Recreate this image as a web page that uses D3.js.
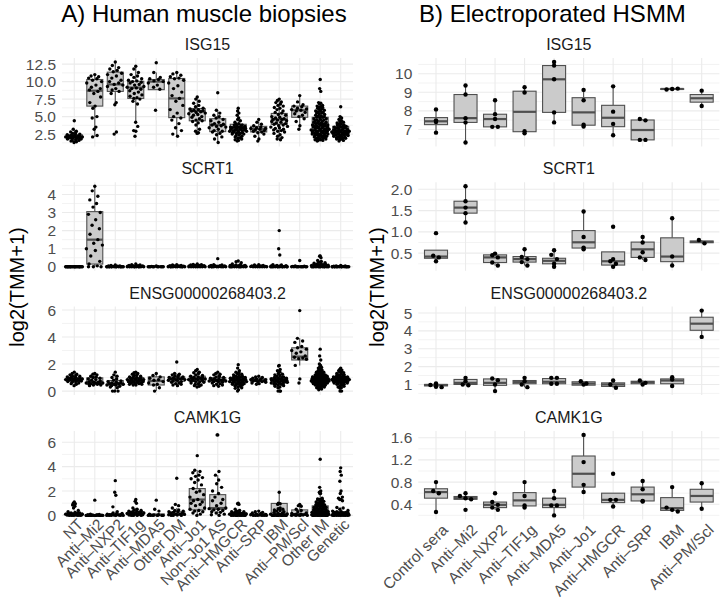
<!DOCTYPE html>
<html><head><meta charset="utf-8">
<script src="https://cdn.jsdelivr.net/npm/d3@7"></script>
<style>body{margin:0;background:#fff}svg{display:block}text{font-family:"Liberation Sans",Arial,Helvetica,sans-serif}</style>
</head><body><svg id="c" width="720" height="604"></svg>
<script>
const catsA = ["NT","Anti–Mi2","Anti–NXP2","Anti–TIF1g","Anti–MDA5","Other DM","Anti–Jo1","Non–Jo1 AS","Anti–HMGCR","Anti–SRP","IBM","Anti–PM/Scl","Other IM","Genetic"];
const catsB = ["Control sera","Anti–Mi2","Anti–NXP2","Anti–TIF1g","Anti–MDA5","Anti–Jo1","Anti–HMGCR","Anti–SRP","IBM","Anti–PM/Scl"];
const genes = ["ISG15","SCRT1","ENSG00000268403.2","CAMK1G"];

// ---------- Panel A: Human muscle biopsies ----------
const ISG15_A = [
 [1.3,1.4,1.5,1.6,1.6,1.7,1.8,1.8,1.9,1.9,2.0,2.0,2.0,2.1,2.1,2.1,2.2,2.2,2.2,2.3,2.3,2.4,2.4,2.5,2.6,2.7,2.8,2.9,3.2,4.4],
 [11.0,10.8,10.7,10.5,10.4,10.2,10.0,9.8,9.5,9.2,9.0,8.8,8.6,8.3,7.8,7.0,6.5,6.2,5.0,4.8,3.5,3.2,2.3,2.1],
 [12.8,12.3,12.0,11.8,11.6,11.4,11.2,11.0,10.8,10.5,10.2,10.0,9.8,9.6,9.5,9.3,9.0,8.8,8.6,8.3,7.0,6.7,2.8,2.5],
 [12.2,11.8,11.3,11.0,10.8,10.6,10.4,10.2,10.1,10.0,9.9,9.8,9.6,9.5,9.3,9.2,9.1,9.0,8.9,8.7,8.5,8.3,8.1,7.9,7.7,7.6,7.5,7.2,6.8,4.2,3.6,3.0,2.9,2.2],
 [12.7,11.3,10.6,10.4,10.3,10.1,10.0,9.8,9.5,9.2,8.9,5.9],
 [11.3,11.1,10.9,10.7,10.5,10.4,10.2,9.8,9.4,9.0,8.5,8.0,7.6,7.2,6.6,6.0,5.5,5.0,4.8,4.5,4.0,3.4,3.0,2.5,2.2],
 [7.8,7.5,7.2,6.9,6.6,6.4,6.2,6.1,6.0,5.9,5.8,5.8,5.7,5.6,5.5,5.4,5.3,5.2,5.0,4.9,4.7,4.5,4.4,4.3,4.1,3.8,3.2,2.9,2.7,2.6],
 [8.4,5.9,5.5,5.2,5.0,4.8,4.6,4.4,4.2,4.0,3.9,3.8,3.7,3.6,3.5,3.4,3.2,3.0,2.9,2.8,2.6,2.4,2.1,1.8,1.3],
 [6.2,5.8,5.5,5.2,4.8,4.6,4.4,4.2,4.0,3.9,3.8,3.8,3.7,3.6,3.6,3.5,3.5,3.4,3.4,3.3,3.3,3.2,3.2,3.1,3.1,3.0,3.0,3.0,2.9,2.9,2.8,2.8,2.7,2.7,2.6,2.6,2.5,2.5,2.4,2.3,2.2,2.1,2.0,1.9,1.8,1.7,1.6,1.5,3.3,3.5],
 [4.6,4.2,3.9,3.7,3.5,3.4,3.3,3.3,3.2,3.1,3.0,2.9,2.8,2.7,2.5,2.2,1.8,1.5],
 [7.5,7.3,7.1,7.0,6.8,6.6,6.5,6.3,6.2,6.0,5.8,5.6,5.5,5.3,5.2,5.0,4.9,4.8,4.7,4.6,4.5,4.4,4.3,4.2,4.1,4.0,3.9,3.8,3.7,3.6,3.5,3.4,3.3,3.2,3.1,3.0,2.9,2.8,2.6,2.4,2.2,2.0,1.8,1.7,4.6],
 [8.0,7.1,6.7,6.5,6.4,6.2,6.1,6.0,5.9,5.8,5.6,5.4,5.2,5.0,4.7,4.3,3.7,3.2],
 [10.3,9.0,8.6,7.0,6.9,6.8,6.6,6.5,6.4,6.3,6.2,6.1,6.0,5.9,5.8,5.7,5.6,5.5,5.4,5.3,5.2,5.1,5.0,4.9,4.9,4.8,4.7,4.6,4.5,4.5,4.4,4.3,4.2,4.2,4.1,4.0,4.0,3.9,3.8,3.8,3.7,3.7,3.6,3.6,3.5,3.5,3.4,3.4,3.3,3.3,3.2,3.2,3.1,3.1,3.0,3.0,2.9,2.9,2.8,2.8,2.7,2.7,2.6,2.6,2.5,2.5,2.4,2.4,2.3,2.3,2.2,2.2,2.1,2.1,2.0,2.0,1.9,1.9,1.8,1.8,1.7,1.7,1.6,1.6,1.5,3.9,4.3,4.7,5.1,5.5,3.5,2.9,3.0,3.2,3.8,4.1,2.5,2.2,6.3,5.8],
 [6.4,5.0,4.8,4.6,4.4,4.3,4.2,4.1,4.0,3.9,3.8,3.7,3.6,3.6,3.5,3.5,3.4,3.4,3.3,3.3,3.2,3.2,3.1,3.1,3.0,3.0,3.0,2.9,2.9,2.9,2.8,2.8,2.8,2.7,2.7,2.7,2.6,2.6,2.6,2.5,2.5,2.5,2.4,2.4,2.3,2.3,2.2,2.2,2.1,2.1,2.0,2.0,1.9,1.9,1.8,1.8,1.7,1.6,1.5,3.8]
];
const ISG15_A_box = [[1.8,2.1,2.4],[6.5,8.7,10.3],[8.6,9.6,11.35],[7.6,9.15,10.05],[8.85,10.0,10.3],[4.85,7.6,10.45],[4.4,5.8,6.15],[2.85,3.8,4.7],[2.95,3.4,3.9],[2.8,3.25,3.6],[3.9,4.6,5.45],[4.9,5.9,6.5],[2.6,3.6,4.9],[2.3,2.9,3.6]];

const SCRT1_A = [
 [0,0,0,0,0,0,0,0,0,0,0,0,0,0,0,0,0,0,0,0],
 [4.45,4.2,3.9,3.7,3.5,3.3,3.0,2.9,2.6,2.3,2.1,1.8,1.5,1.3,1.2,1.0,0.9,0.6,0.3,0.15,0.05,0,0,0],
 [0.1,0.08,0.05,0.05,0.03,0.02,0,0,0,0,0,0,0,0,0,0,0,0,0,0],
 [0.15,0.12,0.1,0.08,0.06,0.05,0.04,0.03,0.03,0.02,0.02,0.01,0,0,0,0,0,0,0,0,0,0],
 [0.05,0.02,0,0,0,0,0,0,0,0,0,0],
 [0.12,0.1,0.08,0.06,0.05,0.04,0.03,0.02,0.02,0.01,0,0,0,0,0,0,0,0,0,0],
 [0.15,0.13,0.12,0.1,0.08,0.07,0.06,0.05,0.04,0.03,0.03,0.02,0.02,0.01,0,0,0,0,0,0,0,0],
 [0.45,0.12,0.1,0.08,0.06,0.05,0.04,0.03,0.02,0.02,0.01,0,0,0,0,0,0,0,0,0],
 [0.32,0.28,0.22,0.15,0.12,0.1,0.08,0.07,0.06,0.05,0.04,0.03,0.03,0.02,0.01,0,0,0,0,0,0,0,0,0,0],
 [0.12,0.1,0.07,0.05,0.04,0.03,0.02,0.01,0,0,0,0,0,0,0],
 [2.0,1.0,0.65,0.12,0.1,0.08,0.06,0.05,0.04,0.03,0.02,0.01,0,0,0,0,0,0,0,0,0,0,0,0],
 [0.35,0.05,0.03,0.02,0,0,0,0,0,0,0,0,0,0],
 [0.6,0.58,0.5,0.35,0.3,0.25,0.22,0.2,0.18,0.15,0.14,0.12,0.11,0.1,0.09,0.08,0.07,0.06,0.05,0.05,0.04,0.04,0.03,0.03,0.02,0.02,0.01,0.01,0,0,0,0,0,0,0,0,0,0,0,0],
 [0.08,0.05,0.04,0.03,0.02,0.01,0,0,0,0,0,0,0,0,0,0,0,0,0,0]
];
const SCRT1_A_box = [[0,0,0],[0.15,1.5,3.05],[0,0,0.03],[0,0.03,0.06],[0,0,0.02],[0,0.02,0.05],[0,0.03,0.06],[0,0.02,0.06],[0,0.03,0.08],[0,0.02,0.05],[0,0,0.05],[0,0,0.03],[0,0.02,0.08],[0,0,0.02]];

const ENSG_A = [
 [0.4,0.5,0.55,0.6,0.65,0.7,0.7,0.75,0.75,0.8,0.8,0.8,0.85,0.85,0.85,0.9,0.9,0.9,0.95,0.95,1.0,1.0,1.05,1.1,1.1,1.15,1.2,1.25,1.3,1.4],
 [1.3,1.25,1.2,1.1,1.05,1.0,0.95,0.9,0.85,0.8,0.75,0.7,0.65,0.65,0.6,0.6,0.6,0.55,0.55,0.5,0.5,0.45,0.45,0.4],
 [1.4,1.2,1.1,1.0,0.9,0.8,0.75,0.7,0.65,0.6,0.6,0.55,0.55,0.5,0.5,0.45,0.45,0.4,0.35,0.3,0.25,0.0,0.0,0.0],
 [1.4,1.35,1.3,1.25,1.2,1.15,1.1,1.05,1.0,1.0,0.95,0.95,0.9,0.9,0.85,0.85,0.8,0.8,0.8,0.75,0.75,0.7,0.7,0.7,0.65,0.65,0.6,0.6,0.55,0.55,0.5,0.5,0.45,0.45],
 [1.3,1.15,1.05,0.95,0.85,0.8,0.7,0.6,0.5,0.45,0.25,0.0],
 [2.15,1.3,1.25,1.2,1.15,1.1,1.05,1.0,1.0,0.95,0.95,0.9,0.9,0.85,0.85,0.8,0.8,0.75,0.7,0.65,0.6,0.55,0.5,0.45,0.4],
 [1.6,1.5,1.4,1.35,1.3,1.2,1.15,1.1,1.05,1.0,1.0,0.95,0.95,0.9,0.9,0.85,0.85,0.8,0.8,0.75,0.7,0.7,0.65,0.6,0.55,0.5,0.45,0.4,0.35,0.3],
 [1.4,1.3,1.25,1.2,1.1,1.05,1.0,0.95,0.9,0.9,0.85,0.85,0.8,0.8,0.75,0.75,0.7,0.7,0.65,0.6,0.55,0.5,0.45,0.4,0.35],
 [1.95,1.7,1.5,1.4,1.35,1.3,1.25,1.2,1.15,1.1,1.1,1.05,1.05,1.0,1.0,0.95,0.95,0.9,0.9,0.9,0.85,0.85,0.85,0.8,0.8,0.8,0.75,0.75,0.75,0.7,0.7,0.7,0.65,0.65,0.6,0.6,0.55,0.55,0.5,0.5,0.45,0.45,0.4,0.35,0.3,0.25,0.2,0.1,0.0,0.85],
 [1.1,1.05,1.0,0.95,0.9,0.9,0.85,0.85,0.8,0.8,0.75,0.75,0.7,0.7,0.65,0.6,0.55,0.5],
 [1.9,1.85,1.6,1.5,1.4,1.3,1.25,1.2,1.15,1.1,1.05,1.0,1.0,0.95,0.95,0.9,0.9,0.85,0.85,0.8,0.8,0.8,0.75,0.75,0.7,0.7,0.7,0.65,0.65,0.6,0.6,0.55,0.55,0.5,0.5,0.45,0.4,0.35,0.3,0.25,0.0,0.0,0.0,0.85,0.9],
 [5.95,3.9,3.7,3.6,3.3,3.2,3.1,3.0,2.9,2.8,2.6,2.5,2.45,2.4,2.35,1.9,0.9,0.6],
 [3.1,2.6,2.3,2.0,1.9,1.8,1.75,1.7,1.65,1.6,1.55,1.5,1.5,1.45,1.4,1.4,1.35,1.35,1.3,1.3,1.25,1.25,1.2,1.2,1.2,1.15,1.15,1.1,1.1,1.1,1.05,1.05,1.05,1.0,1.0,1.0,1.0,0.95,0.95,0.95,0.95,0.9,0.9,0.9,0.9,0.9,0.85,0.85,0.85,0.85,0.85,0.8,0.8,0.8,0.8,0.8,0.75,0.75,0.75,0.75,0.7,0.7,0.7,0.7,0.65,0.65,0.65,0.65,0.6,0.6,0.6,0.6,0.55,0.55,0.55,0.5,0.5,0.5,0.45,0.45,0.45,0.4,0.4,0.4,0.35,0.35,0.3,0.3,0.25,0.25,0.2,0.15,0.1,1.0,0.9,0.8,1.1,0.7,0.6,0.95],
 [1.7,1.6,1.55,1.5,1.45,1.4,1.35,1.3,1.25,1.2,1.2,1.15,1.1,1.1,1.05,1.05,1.0,1.0,1.0,0.95,0.95,0.95,0.9,0.9,0.9,0.85,0.85,0.85,0.8,0.8,0.8,0.75,0.75,0.75,0.7,0.7,0.7,0.65,0.65,0.6,0.6,0.55,0.55,0.5,0.5,0.45,0.4,0.35,0.3,0.25,0.2,0.0,0.0,0.9,0.85,0.8,1.0,0.7,0.75,0.95]
];
const ENSG_A_box = [[0.72,0.85,0.98],[0.52,0.64,0.98],[0.43,0.55,0.78],[0.65,0.8,1.0],[0.45,0.75,1.05],[0.72,0.9,1.05],[0.7,0.9,1.1],[0.7,0.82,1.0],[0.62,0.82,1.02],[0.7,0.8,0.9],[0.6,0.8,1.0],[2.3,2.55,3.2],[0.6,0.85,1.1],[0.65,0.85,1.05]];

const CAMK1G_A = [
 [1.1,1.0,0.95,0.85,0.75,0.6,0.4,0.3,0.25,0.2,0.2,0.15,0.15,0.12,0.1,0.1,0.1,0.08,0.08,0.05,0.05,0.05,0.03,0.03,0.02,0,0,0,0,0],
 [1.25,0.1,0.08,0.05,0.05,0.03,0.02,0,0,0,0,0,0,0,0,0,0,0,0,0],
 [2.85,1.9,1.65,0.7,0.3,0.2,0.15,0.1,0.1,0.08,0.05,0.05,0.03,0.02,0,0,0,0,0,0],
 [1.3,1.15,1.0,0.6,0.5,0.45,0.4,0.35,0.35,0.3,0.3,0.25,0.25,0.2,0.2,0.15,0.15,0.12,0.1,0.1,0.08,0.05,0.05,0.03,0,0,0,0],
 [1.25,0.5,0.35,0.1,0.05,0.03,0,0,0,0,0,0],
 [3.05,0.9,0.8,0.6,0.45,0.4,0.35,0.3,0.3,0.25,0.2,0.15,0.1,0.1,0.08,0.05,0.03,0,0,0],
 [4.9,3.7,3.6,3.5,3.3,3.2,3.1,3.0,2.9,2.7,2.5,2.2,2.0,1.9,1.7,1.5,1.3,1.2,1.1,1.0,0.9,0.8,0.6,0.5,0.4,0.35,0.3,0.2,0.1,0.0],
 [6.6,6.6,3.6,3.3,2.9,2.6,2.3,2.0,1.8,1.5,1.3,1.2,1.0,0.8,0.6,0.55,0.5,0.45,0.4,0.3,0.25,0.2,0.1,0.05,0.0],
 [1.0,0.95,0.9,0.5,0.4,0.35,0.3,0.3,0.25,0.25,0.2,0.2,0.15,0.15,0.12,0.1,0.1,0.08,0.05,0.05,0.03,0,0,0,0,0,0,0,0,0],
 [0.35,0.3,0.25,0.2,0.15,0.1,0.08,0.05,0.03,0,0,0,0,0,0],
 [1.9,1.0,0.95,0.9,0.6,0.55,0.5,0.45,0.4,0.35,0.3,0.25,0.2,0.15,0.12,0.1,0.08,0.05,0.03,0,0,0,0,0,0,0,0,0,0,0],
 [0.9,0.8,0.75,0.5,0.4,0.3,0.2,0.15,0.1,0.1,0.08,0.05,0.03,0.02,0,0,0,0],
 [4.6,2.3,2.0,1.9,1.8,1.8,1.4,1.35,1.3,1.3,1.25,1.25,1.2,1.2,1.15,1.1,1.05,1.0,1.0,0.95,0.9,0.9,0.85,0.85,0.8,0.8,0.75,0.75,0.7,0.7,0.65,0.65,0.6,0.6,0.55,0.55,0.5,0.5,0.45,0.45,0.4,0.4,0.35,0.35,0.3,0.3,0.3,0.25,0.25,0.25,0.2,0.2,0.2,0.15,0.15,0.15,0.12,0.12,0.1,0.1,0.1,0.08,0.08,0.05,0.05,0.05,0.03,0.03,0.02,0.02,0,0,0,0,0,0,0,0,0,0],
 [3.9,3.6,3.3,2.8,2.0,1.8,1.5,1.4,1.3,1.3,1.2,0.65,0.6,0.5,0.4,0.35,0.3,0.3,0.25,0.25,0.2,0.2,0.15,0.15,0.12,0.1,0.1,0.08,0.05,0.05,0.03,0.02,0,0,0,0,0,0,0,0]
];
const CAMK1G_A_box = [[0.03,0.1,0.2],[0,0.02,0.05],[0,0.05,0.12],[0.05,0.15,0.3],[0,0.02,0.12],[0.03,0.12,0.3],[0.45,1.3,2.2],[0.5,0.6,1.7],[0,0.08,0.22],[0,0.05,0.15],[0.02,0.12,0.98],[0.03,0.1,0.45],[0.1,0.35,0.78],[0.02,0.12,0.3]];

// ---------- Panel B: Electroporated HSMM ----------
const ISG15_B = [[8.08,7.49,7.40,6.83],[9.37,8.88,7.61,7.38,6.30],[8.57,7.82,7.56,7.14,7.14],[9.27,8.99,6.91,6.79],[10.63,10.44,9.70,7.92,7.38],[9.13,8.57,7.26,7.16],[9.32,7.96,7.30,6.69],[7.56,7.49,6.44,6.44],[9.15,9.18,9.20],[9.09,8.26]];
const ISG15_B_box = [[7.26,7.44,7.64],[7.38,7.61,8.88],[7.14,7.56,7.82],[6.88,7.95,9.06],[7.92,9.70,10.44],[7.23,7.92,8.71],[7.15,7.63,8.30],[6.44,6.97,7.51],[9.16,9.18,9.19],[8.47,8.68,8.88]];
const SCRT1_B = [[0.97,0.44,0.40,0.31],[2.07,1.72,1.57,1.44,1.22],[0.49,0.45,0.40,0.28,0.21],[0.59,0.41,0.36,0.29,0.21],[0.57,0.46,0.36,0.25,0.18],[1.48,0.88,0.63,0.59],[1.12,0.36,0.31,0.25,0.18],[0.88,0.75,0.52,0.40,0.34],[1.32,0.42,0.21],[0.81,0.73]];
const SCRT1_B_box = [[0.38,0.42,0.57],[1.44,1.57,1.72],[0.28,0.40,0.46],[0.29,0.36,0.42],[0.25,0.32,0.38],[0.62,0.755,1.03],[0.22,0.31,0.53],[0.40,0.59,0.76],[0.30,0.42,0.86],[0.745,0.765,0.785]];
const ENSG_B = [[1.05,0.97,0.87,0.85],[1.37,1.18,1.0,0.96],[1.33,1.24,1.0,0.63],[1.37,1.18,1.0,0.85],[1.37,1.37,1.04,1.04],[1.18,1.05,1.0],[1.22,1.0,0.82],[1.22,1.09,1.0],[1.4,1.28,0.91],[5.13,3.66]];
const ENSG_B_box = [[0.92,0.97,1.0],[1.0,1.09,1.28],[0.95,1.09,1.31],[1.04,1.13,1.22],[1.04,1.15,1.33],[0.96,1.05,1.15],[0.89,1.0,1.09],[1.04,1.13,1.18],[1.04,1.22,1.31],[4.03,4.40,4.76]];
const CAMK1G_B = [[0.80,0.64,0.60,0.26],[0.60,0.55,0.51,0.49,0.30],[0.60,0.44,0.39,0.34,0.30],[0.80,0.55,0.38,0.34],[0.64,0.51,0.38,0.38,0.20],[1.65,1.16,0.75,0.62],[0.95,0.48,0.48,0.36],[0.82,0.67,0.46,0.45],[0.71,0.34,0.30,0.27],[0.78,0.32]];
const CAMK1G_B_box = [[0.51,0.62,0.68],[0.49,0.51,0.54],[0.34,0.39,0.44],[0.37,0.47,0.61],[0.34,0.39,0.51],[0.71,0.95,1.27],[0.43,0.48,0.60],[0.46,0.58,0.71],[0.29,0.33,0.52],[0.44,0.55,0.67]];

const ticksA = [[2.5,5,7.5,10,12.5],[0,1,2,3,4],[0,2,4,6],[0,2,4,6]];
const tickDigitsA = [1,0,0,0];
const ticksB = [[7,8,9,10],[0.5,1,1.5,2],[1,2,3,4,5],[0.4,0.8,1.2,1.6]];
const tickDigitsB = [0,1,0,1];

// ---------- drawing ----------
const svg = d3.select("#c");
const tops = [58, 182.3, 306.6, 430.9], PH = 88.5;
const GRID = "#EBEBEB", BOXF = "#CBCBCB", BOXS = "#4F4F4F";

function vdc(n){ let v=0, den=1; while(n>0){ den*=2; v+=(n%2)/den; n=Math.floor(n/2);} return v; }
function whisk(vals,q){ const iqr=q[2]-q[0], lo=q[0]-1.5*iqr, hi=q[2]+1.5*iqr; let wl=q[0], wh=q[2];
  vals.forEach(v=>{ if(v>=lo&&v<wl) wl=v; if(v<=hi&&v>wh) wh=v; }); return [wl,wh]; }

function quasiOffsets(py, halfW){
  const n=py.length; const sd=d3.deviation(py)||0; const bw=Math.max(3, 0.9*sd*Math.pow(n,-0.2));
  const dens=py.map(p=>d3.sum(py,q=>Math.exp(-0.5*((q-p)/bw)**2)));
  const mx=d3.max(dens);
  const idx=d3.range(n).sort((a,b)=>py[a]-py[b]);
  const off=new Array(n);
  idx.forEach((i,r)=>{ const w=halfW*Math.max(0.12, dens[i]/mx); off[i]=(2*vdc(r+1)-1)*w; });
  return off;
}
function dotOffsets(py, sp){
  const bins={}; py.forEach((p,i)=>{ const k=Math.round(p/sp); (bins[k]=bins[k]||[]).push(i); });
  const off=new Array(py.length);
  Object.values(bins).forEach(ids=>{ ids.forEach((i,j)=>{ off[i]=(j-(ids.length-1)/2)*sp; }); });
  return off;
}

function column(cfg){
  const x=d3.scalePoint().domain(cfg.cats).range([cfg.left,cfg.right]).padding(0.6);
  const step=x.step(), bw=step*0.78;
  cfg.data.forEach((groups,g)=>{
    const boxes=cfg.boxes[g];
    const top=tops[g], bottom=top+PH;
    const all=groups.flat();
    const ext=d3.extent(all), pad=(ext[1]-ext[0])*0.05;
    const y=d3.scaleLinear().domain([ext[0]-pad,ext[1]+pad]).range([bottom,top]);
    const G=svg.append("g");
    const tk=cfg.ticks[g], d=tk[1]-tk[0];
    const minors=[tk[0]-d/2].concat(tk.map(t=>t+d/2)).filter(m=>m>=y.domain()[0]&&m<=y.domain()[1]);
    G.selectAll(null).data(minors).join("line").attr("x1",cfg.left).attr("x2",cfg.right)
      .attr("y1",m=>y(m)).attr("y2",m=>y(m)).attr("stroke",GRID).attr("stroke-width",0.6);
    G.selectAll(null).data(tk).join("line").attr("x1",cfg.left).attr("x2",cfg.right)
      .attr("y1",t=>y(t)).attr("y2",t=>y(t)).attr("stroke",GRID).attr("stroke-width",1.1);
    G.selectAll(null).data(cfg.cats).join("line").attr("x1",c=>x(c)).attr("x2",c=>x(c))
      .attr("y1",top).attr("y2",bottom).attr("stroke",GRID).attr("stroke-width",1.1);
    const fmt=d3.format("."+cfg.digits[g]+"f");
    G.selectAll(null).data(tk).join("text").attr("x",cfg.left-6).attr("y",t=>y(t)).attr("dy","0.36em")
      .attr("text-anchor","end").attr("font-size",15.5).attr("fill","#4D4D4D").text(t=>fmt(t));
    G.append("text").attr("x",(cfg.left+cfg.right)/2).attr("y",top-8).attr("text-anchor","middle")
      .attr("font-size",16).attr("fill","#1A1A1A").text(genes[g]);
    cfg.cats.forEach((c,i)=>{
      const q=boxes[i], w=whisk(groups[i],q), cx=x(c);
      G.append("line").attr("x1",cx).attr("x2",cx).attr("y1",y(q[2])).attr("y2",y(w[1])).attr("stroke",BOXS).attr("stroke-width",1.1);
      G.append("line").attr("x1",cx).attr("x2",cx).attr("y1",y(q[0])).attr("y2",y(w[0])).attr("stroke",BOXS).attr("stroke-width",1.1);
      G.append("rect").attr("x",cx-bw/2).attr("width",bw).attr("y",y(q[2])).attr("height",Math.max(0,y(q[0])-y(q[2])))
        .attr("fill",BOXF).attr("stroke",BOXS).attr("stroke-width",1.1);
      G.append("line").attr("x1",cx-bw/2).attr("x2",cx+bw/2).attr("y1",y(q[1])).attr("y2",y(q[1])).attr("stroke",BOXS).attr("stroke-width",2.2);
    });
    cfg.cats.forEach((c,i)=>{
      const vals=groups[i], py=vals.map(v=>y(v));
      const off = cfg.mode==="quasi" ? quasiOffsets(py, step*0.45) : dotOffsets(py, cfg.r*2+1.2);
      G.selectAll(null).data(vals).join("circle").attr("cx",(v,k)=>x(c)+off[k]).attr("cy",(v,k)=>py[k])
        .attr("r",cfg.r).attr("fill","#000");
    });
  });
  svg.append("g").selectAll(null).data(cfg.cats).join("text")
    .attr("transform",c=>`translate(${x(c)+cfg.lx},${cfg.ly}) rotate(-45)`)
    .attr("text-anchor","end").attr("dy","0.72em").attr("font-size",15.5).attr("fill","#4D4D4D").text(c=>c);
  svg.append("text").attr("transform",`translate(${cfg.yt},287) rotate(-90)`).attr("text-anchor","middle")
    .attr("font-size",20).attr("fill","#000").text("log2(TMM+1)");
  svg.append("text").attr("x",cfg.tx).attr("y",22).attr("text-anchor","middle").attr("font-size",24).attr("fill","#000").text(cfg.title);
}

column({cats:catsA,left:62,right:353,data:[ISG15_A,SCRT1_A,ENSG_A,CAMK1G_A],boxes:[ISG15_A_box,SCRT1_A_box,ENSG_A_box,CAMK1G_A_box],
  ticks:ticksA,digits:tickDigitsA,mode:"quasi",r:1.7,lx:2,ly:517.5,yt:24,tx:204,title:"A) Human muscle biopsies"});
column({cats:catsB,left:418.3,right:719.4,data:[ISG15_B,SCRT1_B,ENSG_B,CAMK1G_B],boxes:[ISG15_B_box,SCRT1_B_box,ENSG_B_box,CAMK1G_B_box],
  ticks:ticksB,digits:tickDigitsB,mode:"dot",r:2.2,lx:5,ly:523,yt:384,tx:552.5,title:"B) Electroporated HSMM"});
</script></body></html>
